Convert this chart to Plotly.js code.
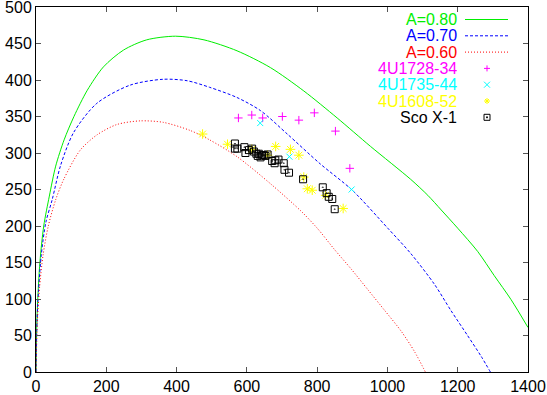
<!DOCTYPE html>
<html>
<head>
<meta charset="utf-8">
<script src="https://cdn.plot.ly/plotly-3.0.1.min.js"></script>
<style>
  html, body { margin: 0; padding: 0; background: #fff; }
  #chart { width: 547px; height: 395px; }
</style>
</head>
<body>
<div id="chart"></div>
<script>
// ----- curves -----
const a80X = [0, 2, 5, 11, 22, 38, 56, 80, 108, 146, 192, 249, 315, 397, 478, 572, 667, 762, 857, 952, 1066, 1115, 1153, 1200, 1257, 1304, 1352, 1400];
const a80Y = [0, 60, 100, 150, 200, 241, 282, 318, 350, 386, 418, 441, 455, 460, 455, 440, 417, 385, 348, 309, 264, 242, 222, 197, 165, 132, 99, 61];

const a70X = [0, 3, 7, 15, 28, 46, 70, 107, 173, 268, 362, 430, 494, 572, 639, 715, 809, 900, 1001, 1067, 1134, 1181, 1228, 1266, 1293];
const a70Y = [0, 70, 110, 160, 205, 236, 283, 328, 368, 393, 401, 399, 390, 376, 358, 326, 285, 249, 197, 162, 120, 84, 50, 22, 0];

const a60X = [0, 4, 10, 20, 35, 56, 79, 126, 174, 230, 296, 362, 438, 494, 572, 667, 755, 802, 849, 897, 944, 991, 1039, 1077, 1108];
const a60Y = [0, 70, 115, 160, 200, 236, 264, 304, 325, 339, 344, 342, 331, 318, 295, 258, 220, 196, 168, 141, 113, 85, 56, 28, 0];

// ----- sources -----
const u1728X = [576, 614, 645, 701, 748, 792, 852, 893];
const u1728Y = [348, 352, 348, 350, 345, 355, 330, 279];

const u1735X = [638, 721, 898];
const u1735Y = [341, 295, 250];

const u1608X = [474, 545, 614, 659, 682, 724, 748, 762, 772, 786, 824, 874];
const u1608Y = [326, 312, 305, 297, 309, 305, 297, 267, 251, 249, 242, 224];

const scoX = [566, 566, 573, 593, 596, 606, 615, 620, 627, 631, 634, 639, 643, 648, 653, 659, 672, 681, 679, 690, 705, 707, 720, 760, 816, 827, 833, 843, 850];
const scoY = [313, 306, 306, 308, 300, 304, 306, 302, 299, 296, 299, 294, 297, 297, 296, 298, 289, 290, 286, 291, 286, 277, 273, 264, 253, 245, 240, 237, 223];

const FONT = "Liberation Sans, Arial, Helvetica, sans-serif";

// plot box in pixels
const box = { l: 36, r: 19, t: 7, b: 23, w: 547, h: 395 };
const pw = box.w - box.l - box.r, ph = box.h - box.t - box.b;
const px = x => (x - box.l) / pw;
const py = y => (box.h - box.b - y) / ph;

const curve = (x, y, color, dash) => ({
  type: "scatter", mode: "lines", x, y,
  line: { color, width: 1, dash, shape: "spline", smoothing: 0.8 },
  hoverinfo: "skip", showlegend: false
});
const pts = (x, y, color, symbol, size) => ({
  type: "scatter", mode: "markers", x, y,
  marker: { symbol, size, color, line: { color, width: 1 } },
  hoverinfo: "skip", showlegend: false
});

const traces = [
  curve(a80X, a80Y, "#00ee00", "solid"),
  curve(a70X, a70Y, "#0000ff", "3px,2px"),
  curve(a60X, a60Y, "#ff0000", "1px,2px"),
  pts(u1728X, u1728Y, "#ff00ff", "cross-thin-open", 6),
  pts(u1735X, u1735Y, "#00ffff", "x-thin-open", 6),
  pts(u1608X, u1608Y, "#ffff00", "asterisk-open", 8),
  pts(scoX, scoY, "#000000", "square-open-dot", 7)
];

// ----- gnuplot-style key: text right-aligned, sample on the right -----
const keyRows = [
  { label: "A=0.80", color: "#00ee00", line: "solid" },
  { label: "A=0.70", color: "#0000ff", line: "3px,2px" },
  { label: "A=0.60", color: "#ff0000", line: "1px,2px" },
  { label: "4U1728-34", color: "#ff00ff", path: "M-3,0H3M0,-3V3" },
  { label: "4U1735-44", color: "#00ffff", path: "M-3,-3L3,3M-3,3L3,-3" },
  { label: "4U1608-52", color: "#ffff00", path: "M-3,0H3M0,-3V3M-2,-2L2,2M-2,2L2,-2" },
  { label: "Sco X-1", color: "#000000", path: "M-3,-3H3V3H-3Z M-0.5,-0.5H0.5V0.5H-0.5Z" }
];
const annotations = [], shapes = [];
keyRows.forEach((r, i) => {
  const yy = 19.5 + i * 16.3;
  annotations.push({
    xref: "paper", yref: "paper", x: px(459), y: py(yy),
    xanchor: "right", yanchor: "middle", showarrow: false,
    text: r.label, font: { family: FONT, size: 16, color: r.color }
  });
  if (r.line) {
    shapes.push({
      type: "line", xref: "paper", yref: "paper",
      x0: px(465), x1: px(508), y0: py(yy), y1: py(yy),
      line: { color: r.color, width: 1, dash: r.line }
    });
  } else {
    shapes.push({
      type: "path", xref: "paper", yref: "paper",
      xsizemode: "pixel", ysizemode: "pixel",
      xanchor: px(487), yanchor: py(yy),
      path: r.path, line: { color: r.color, width: 1 }
    });
  }
});

const axis = {
  showgrid: false, zeroline: false,
  showline: true, linecolor: "#000", linewidth: 1, mirror: "allticks",
  ticks: "inside", ticklen: 5, tickcolor: "#555", tickwidth: 1,
  ticklabeloverflow: "allow",
  tickfont: { family: FONT, size: 16, color: "#000" }
};

const layout = {
  width: box.w, height: box.h,
  margin: { l: box.l, r: box.r, t: box.t, b: box.b },
  paper_bgcolor: "#fff", plot_bgcolor: "#fff",
  showlegend: false,
  xaxis: { ...axis, range: [0, 1400], tick0: 0, dtick: 200 },
  yaxis: { ...axis, range: [0, 500], tick0: 0, dtick: 50 },
  annotations, shapes
};

Plotly.newPlot("chart", traces, layout, { staticPlot: true, displayModeBar: false });
</script>
</body>
</html>
